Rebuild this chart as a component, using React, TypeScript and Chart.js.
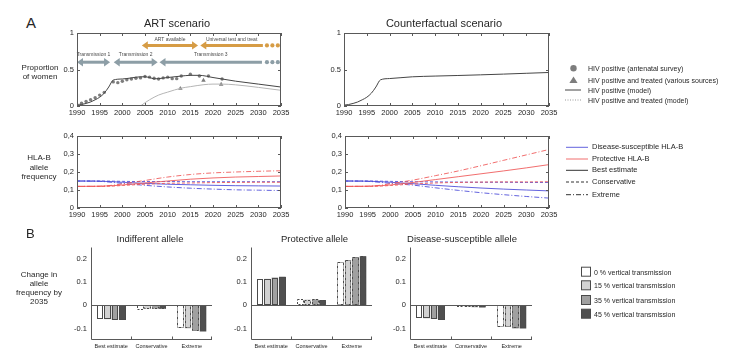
import React, { useEffect, useRef } from 'react';
import { Chart, registerables } from 'chart.js';
Chart.register(...registerables);

const FONT = "'Liberation Sans', Arial, Helvetica, sans-serif";
const AXIS_COLOR = '#595959';
const TEXT_COLOR = '#262626';

// ---------------- Data ----------------
const YEAR_TICKS = [1990, 1995, 2000, 2005, 2010, 2015, 2020, 2025, 2030, 2035];
const PROP_TICKS = [0, 0.5, 1];
const FREQ_TICKS = [0, 0.1, 0.2, 0.3, 0.4];
const CHANGE_TICKS = [-0.1, 0, 0.1, 0.2];

// Panel A, ART scenario (proportion of women)
const ART_MODEL_YEARS = [1990, 1991, 1992, 1993, 1994, 1995, 1996, 1997, 1998, 2000, 2002, 2004, 2005, 2006, 2007, 2008, 2010, 2013, 2015, 2017, 2020, 2025, 2030, 2035];
const ART_MODEL_HIV = [0.012, 0.02, 0.035, 0.055, 0.085, 0.12, 0.175, 0.26, 0.355, 0.37, 0.385, 0.4, 0.4, 0.39, 0.372, 0.375, 0.39, 0.41, 0.42, 0.42, 0.39, 0.34, 0.3, 0.26];
const ART_TREATED_YEARS = [2004, 2005, 2006, 2008, 2010, 2013, 2015, 2018, 2020, 2022, 2025, 2030, 2035];
const ART_TREATED_MODEL = [0.0, 0.045, 0.085, 0.15, 0.19, 0.245, 0.265, 0.292, 0.3, 0.3, 0.29, 0.255, 0.215];
const SURVEY_YEARS = [1990, 1991, 1992, 1993, 1994, 1995, 1996, 1998, 1999, 2000, 2001, 2002, 2003, 2004, 2005, 2006, 2007, 2008, 2009, 2010, 2011, 2012, 2013, 2015, 2017, 2019, 2022];
const SURVEY_HIV = [0.017, 0.039, 0.062, 0.086, 0.113, 0.149, 0.186, 0.33, 0.32, 0.34, 0.36, 0.37, 0.38, 0.385, 0.405, 0.395, 0.38, 0.37, 0.385, 0.395, 0.375, 0.375, 0.41, 0.435, 0.41, 0.41, 0.37];
const TREATED_OBS_YEARS = [2012.8, 2017.9, 2021.8];
const TREATED_OBS = [0.24, 0.35, 0.295];

// Annotation arrows (ART scenario)
const ARROW_LABELS = ['Transmission 1', 'Transmission 2', 'Transmission 3', 'ART available', 'Universal test and treat'];
const ARROW_START = [1990, 1998.1, 2008.2, 2004.3, 2017.2];
const ARROW_END = [1997.3, 2007.8, 2030.8, 2016.7, 2031];
const ARROW_LEVEL = [0.6, 0.6, 0.6, 0.83, 0.83];
const ARROW_RIGHT_HEAD = [true, true, false, true, false];
const ARROW_COLOR = ['#8d9ea6', '#8d9ea6', '#8d9ea6', '#d69c45', '#d69c45'];
const CONTINUATION_YEARS = [2031.9, 2033.1, 2034.3];

// Panel A, counterfactual scenario
const CF_MODEL_YEARS = [1990, 1991, 1992, 1993, 1994, 1995, 1996, 1997, 1998, 2000, 2005, 2010, 2015, 2020, 2025, 2030, 2035];
const CF_MODEL_HIV = [0.012, 0.02, 0.035, 0.055, 0.085, 0.12, 0.175, 0.26, 0.358, 0.376, 0.4, 0.41, 0.418, 0.427, 0.437, 0.448, 0.459];

// HLA-B allele frequency
const FREQ_YEARS = [1990, 1995, 1998, 2000, 2005, 2010, 2015, 2020, 2025, 2030, 2035];
const ART_SUSC_BEST = [0.15, 0.149, 0.146, 0.143, 0.137, 0.132, 0.129, 0.126, 0.124, 0.123, 0.122];
const ART_SUSC_CONS = [0.15, 0.15, 0.149, 0.148, 0.147, 0.147, 0.146, 0.146, 0.146, 0.146, 0.146];
const ART_SUSC_EXT = [0.15, 0.148, 0.142, 0.137, 0.126, 0.117, 0.11, 0.105, 0.101, 0.099, 0.097];
const ART_PROT_BEST = [0.12, 0.121, 0.124, 0.128, 0.139, 0.15, 0.16, 0.167, 0.172, 0.175, 0.178];
const ART_PROT_CONS = [0.12, 0.12, 0.122, 0.125, 0.132, 0.137, 0.139, 0.141, 0.142, 0.143, 0.143];
const ART_PROT_EXT = [0.12, 0.121, 0.127, 0.134, 0.153, 0.172, 0.186, 0.195, 0.2, 0.204, 0.207];
const CF_SUSC_BEST = [0.15, 0.149, 0.146, 0.143, 0.135, 0.126, 0.118, 0.111, 0.105, 0.1, 0.095];
const CF_SUSC_CONS = [0.15, 0.15, 0.149, 0.148, 0.146, 0.145, 0.144, 0.143, 0.143, 0.142, 0.142];
const CF_SUSC_EXT = [0.15, 0.148, 0.142, 0.137, 0.127, 0.112, 0.098, 0.085, 0.074, 0.064, 0.055];
const CF_PROT_BEST = [0.12, 0.121, 0.124, 0.128, 0.142, 0.158, 0.174, 0.19, 0.206, 0.223, 0.241];
const CF_PROT_CONS = [0.12, 0.12, 0.122, 0.125, 0.133, 0.139, 0.142, 0.144, 0.145, 0.145, 0.146];
const CF_PROT_EXT = [0.12, 0.121, 0.127, 0.135, 0.155, 0.18, 0.206, 0.235, 0.265, 0.295, 0.325];

// Panel B, change in allele frequency by 2035
const BAR_CATEGORIES = ['Best estimate', 'Conservative', 'Extreme'];
const VT_LABELS = ['0 % vertical transmission', '15 % vertical transmission', '35 % vertical transmission', '45 % vertical transmission'];
const VT_COLORS = ['#ffffff', '#d2d2d2', '#a0a0a0', '#4f4f4f'];
const INDIFF_VT0 = [-0.06, -0.019, -0.097];
const INDIFF_VT15 = [-0.06, -0.016, -0.1];
const INDIFF_VT35 = [-0.062, -0.015, -0.109];
const INDIFF_VT45 = [-0.063, -0.015, -0.113];
const PROT_VT0 = [0.112, 0.029, 0.189];
const PROT_VT15 = [0.115, 0.025, 0.196];
const PROT_VT35 = [0.12, 0.026, 0.208];
const PROT_VT45 = [0.123, 0.023, 0.212];
const SUSC_VT0 = [-0.055, -0.008, -0.093];
const SUSC_VT15 = [-0.057, -0.007, -0.094];
const SUSC_VT35 = [-0.059, -0.008, -0.1];
const SUSC_VT45 = [-0.062, -0.009, -0.1];

// ---------------- helpers ----------------
const pts = (xs: number[], ys: number[]) => xs.map((x, i) => ({ x, y: ys[i] }));
const BLUE = 'rgba(70,70,215,0.85)';
const RED = 'rgba(238,85,85,0.85)';
const DASH = [3, 2];
const DASHDOT = [5, 2, 1, 2];

type Plot = { x: number; y: number; w: number; h: number };

function boxFramePlugin() {
  return {
    id: 'boxFrame',
    afterDraw(chart: any) {
      const { ctx, chartArea: a, scales } = chart;
      ctx.save();
      ctx.strokeStyle = AXIS_COLOR;
      ctx.lineWidth = 1;
      ctx.strokeRect(Math.round(a.left) + 0.5, Math.round(a.top) + 0.5, Math.round(a.right - a.left) - 1, Math.round(a.bottom - a.top) - 1);
      ctx.beginPath();
      scales.x.ticks.forEach((t: any) => {
        const px = Math.round(scales.x.getPixelForValue(t.value)) + 0.5;
        ctx.moveTo(px, a.bottom); ctx.lineTo(px, a.bottom - 3);
        ctx.moveTo(px, a.top); ctx.lineTo(px, a.top + 3);
      });
      scales.y.ticks.forEach((t: any) => {
        const py = Math.round(scales.y.getPixelForValue(t.value)) + 0.5;
        ctx.moveTo(a.left, py); ctx.lineTo(a.left + 3, py);
        ctx.moveTo(a.right, py); ctx.lineTo(a.right - 3, py);
      });
      ctx.stroke();
      ctx.restore();
    },
  };
}

function arrowPlugin() {
  return {
    id: 'arrows',
    afterDatasetsDraw(chart: any) {
      const { ctx, scales } = chart;
      const xs = scales.x, ys = scales.y;
      ctx.save();
      ARROW_LABELS.forEach((label, i) => {
        const x1 = xs.getPixelForValue(ARROW_START[i]);
        const x2 = xs.getPixelForValue(ARROW_END[i]);
        const y = ys.getPixelForValue(ARROW_LEVEL[i]);
        const hl = 6, hw = 4.2;
        ctx.fillStyle = ARROW_COLOR[i];
        ctx.strokeStyle = ARROW_COLOR[i];
        ctx.lineWidth = 3;
        ctx.beginPath();
        ctx.moveTo(x1 + hl - 1, y);
        ctx.lineTo(ARROW_RIGHT_HEAD[i] ? x2 - hl + 1 : x2, y);
        ctx.stroke();
        ctx.beginPath();
        ctx.moveTo(x1, y); ctx.lineTo(x1 + hl, y - hw); ctx.lineTo(x1 + hl, y + hw); ctx.closePath();
        ctx.fill();
        if (ARROW_RIGHT_HEAD[i]) {
          ctx.beginPath();
          ctx.moveTo(x2, y); ctx.lineTo(x2 - hl, y - hw); ctx.lineTo(x2 - hl, y + hw); ctx.closePath();
          ctx.fill();
        } else {
          CONTINUATION_YEARS.forEach((yr) => {
            ctx.beginPath();
            ctx.arc(xs.getPixelForValue(yr), y, 2.1, 0, Math.PI * 2);
            ctx.fill();
          });
        }
        ctx.fillStyle = '#4a4a4a';
        ctx.font = `5px ${FONT}`;
        ctx.textAlign = 'center';
        ctx.textBaseline = 'middle';
        ctx.fillText(label, (x1 + x2) / 2, y - (ARROW_LEVEL[i] > 0.7 ? 5.5 : 8));
      });
      ctx.restore();
    },
  };
}

function barFramePlugin() {
  return {
    id: 'barFrame',
    afterDatasetsDraw(chart: any) {
      const { ctx, chartArea: a, scales } = chart;
      ctx.save();
      // dashed / dash-dot outlines for bars
      chart.data.datasets.forEach((_d: any, di: number) => {
        const meta = chart.getDatasetMeta(di);
        meta.data.forEach((bar: any, j: number) => {
          const { x, y, base, width } = bar.getProps(['x', 'y', 'base', 'width'], true);
          const l = Math.round(x - width / 2) + 0.5;
          const r = Math.round(x + width / 2) - 0.5;
          const t = Math.round(Math.min(y, base)) + 0.5;
          const b = Math.round(Math.max(y, base)) - 0.5;
          ctx.strokeStyle = '#4a4a4a';
          ctx.lineWidth = 1;
          ctx.setLineDash(j === 0 ? [] : j === 1 ? [2, 1.5] : [3, 1, 1, 1]);
          ctx.strokeRect(l, t, r - l, b - t);
        });
      });
      ctx.setLineDash([]);
      ctx.strokeStyle = AXIS_COLOR;
      ctx.lineWidth = 1;
      ctx.beginPath();
      const L = Math.round(a.left) + 0.5;
      const B = Math.round(a.bottom) - 0.5;
      ctx.moveTo(L, a.top); ctx.lineTo(L, B);
      ctx.lineTo(a.right, B);
      const y0 = Math.round(scales.y.getPixelForValue(0)) + 0.5;
      ctx.moveTo(L, y0); ctx.lineTo(a.right, y0);
      const n = scales.x.ticks.length;
      for (let i = 1; i <= n; i++) {
        const px = i < n
          ? Math.round((scales.x.getPixelForTick(i - 1) + scales.x.getPixelForTick(i)) / 2) + 0.5
          : Math.round(a.right) - 0.5;
        ctx.moveTo(px, B); ctx.lineTo(px, B - 3);
      }
      ctx.stroke();
      ctx.restore();
    },
  };
}

function baseOptions(yW: number, xH: number, padTop: number, padRight: number) {
  return {
    responsive: false,
    maintainAspectRatio: false,
    animation: false,
    devicePixelRatio: 1,
    layout: { padding: { left: 0, right: padRight, top: padTop, bottom: 0 } },
    plugins: { legend: { display: false }, tooltip: { enabled: false } },
  };
}

function lineConfig(datasets: any[], yTicks: number[], yMax: number, yFmt: (v: number) => string, extraPlugins: any[], yW: number, xH: number, padTop: number, padRight: number) {
  return {
    type: 'line',
    data: { datasets },
    options: {
      ...baseOptions(yW, xH, padTop, padRight),
      elements: { point: { radius: 0 }, line: { borderWidth: 1 } },
      scales: {
        x: {
          type: 'linear', min: 1990, max: 2035,
          grid: { display: false, drawTicks: false }, border: { display: false },
          afterBuildTicks: (s: any) => { s.ticks = YEAR_TICKS.map((v) => ({ value: v })); },
          afterFit: (s: any) => { s.height = xH; },
          ticks: { autoSkip: false, maxRotation: 0, minRotation: 0, padding: 2, color: TEXT_COLOR, font: { family: FONT, size: 7.5 }, callback: (v: any) => String(v) },
        },
        y: {
          type: 'linear', min: 0, max: yMax,
          grid: { display: false, drawTicks: false }, border: { display: false },
          afterBuildTicks: (s: any) => { s.ticks = yTicks.map((v) => ({ value: v })); },
          afterFit: (s: any) => { s.width = yW; },
          ticks: { padding: 3, color: TEXT_COLOR, font: { family: FONT, size: 7.5 }, callback: (v: any) => yFmt(Number(v)) },
        },
      },
    },
    plugins: [boxFramePlugin(), ...extraPlugins],
  };
}

function barConfig(series: number[][], yW: number, xH: number, padTop: number, padRight: number) {
  return {
    type: 'bar',
    data: {
      labels: BAR_CATEGORIES,
      datasets: series.map((s, i) => ({
        label: VT_LABELS[i], data: s, backgroundColor: VT_COLORS[i], borderWidth: 0,
        categoryPercentage: 0.74, barPercentage: 0.88,
      })),
    },
    options: {
      ...baseOptions(yW, xH, padTop, padRight),
      scales: {
        x: {
          type: 'category', offset: true,
          grid: { display: false, drawTicks: false }, border: { display: false },
          afterFit: (s: any) => { s.height = xH; },
          ticks: { autoSkip: false, maxRotation: 0, minRotation: 0, padding: 3, color: TEXT_COLOR, font: { family: FONT, size: 5.5 } },
        },
        y: {
          type: 'linear', min: -0.15, max: 0.25,
          grid: { display: false, drawTicks: false }, border: { display: false },
          afterBuildTicks: (s: any) => { s.ticks = CHANGE_TICKS.map((v) => ({ value: v })); },
          afterFit: (s: any) => { s.width = yW; },
          ticks: { padding: 4, color: TEXT_COLOR, font: { family: FONT, size: 7.5 }, callback: (v: any) => (Number(v) === 0 ? '0' : Number(v).toFixed(1)) },
        },
      },
    },
    plugins: [barFramePlugin()],
  };
}

function ChartBox({ plot, yW, xH, padTop, padRight, make }: { plot: Plot; yW: number; xH: number; padTop: number; padRight: number; make: (yW: number, xH: number, padTop: number, padRight: number) => any }) {
  const ref = useRef<HTMLCanvasElement>(null);
  const w = yW + plot.w + padRight;
  const h = padTop + plot.h + xH;
  useEffect(() => {
    if (!ref.current) return;
    const chart = new Chart(ref.current, make(yW, xH, padTop, padRight));
    return () => chart.destroy();
  }, []);
  return (
    <canvas
      ref={ref}
      width={w}
      height={h}
      style={{ position: 'absolute', left: plot.x - yW, top: plot.y - padTop, width: w, height: h }}
    />
  );
}

function Txt({ x, y, size, children, align = 'center', weight = 400 }: any) {
  const tx = align === 'center' ? '-50%' : align === 'right' ? '-100%' : '0';
  return (
    <div
      style={{
        position: 'absolute', left: x, top: y, transform: `translate(${tx}, -50%)`,
        fontFamily: FONT, fontSize: size, color: TEXT_COLOR, whiteSpace: 'nowrap', lineHeight: 1, fontWeight: weight,
      }}
    >
      {children}
    </div>
  );
}

const fmtProp = (v: number) => String(v);
const fmtFreq = (v: number) => (v === 0 ? '0' : v.toFixed(1).replace('.', ','));

function freqDatasets(sb: number[], sc: number[], se: number[], pb: number[], pc: number[], pe: number[]) {
  return [
    { data: pts(FREQ_YEARS, pe), borderColor: RED, borderDash: DASHDOT, cubicInterpolationMode: 'monotone' },
    { data: pts(FREQ_YEARS, pc), borderColor: RED, borderDash: DASH, cubicInterpolationMode: 'monotone' },
    { data: pts(FREQ_YEARS, pb), borderColor: RED, cubicInterpolationMode: 'monotone' },
    { data: pts(FREQ_YEARS, se), borderColor: BLUE, borderDash: DASHDOT, cubicInterpolationMode: 'monotone' },
    { data: pts(FREQ_YEARS, sc), borderColor: BLUE, borderDash: DASH, cubicInterpolationMode: 'monotone' },
    { data: pts(FREQ_YEARS, sb), borderColor: BLUE, cubicInterpolationMode: 'monotone' },
  ];
}

export default function App() {
  const TL: Plot = { x: 77, y: 33, w: 204, h: 73 };
  const TR: Plot = { x: 344, y: 33, w: 205, h: 73 };
  const ML: Plot = { x: 77, y: 136, w: 204, h: 72 };
  const MR: Plot = { x: 345, y: 136, w: 204, h: 72 };
  const BL: Plot = { x: 91, y: 243, w: 121, h: 97 };
  const BM: Plot = { x: 251, y: 243, w: 121, h: 97 };
  const BR: Plot = { x: 410, y: 243, w: 122, h: 97 };

  const artTop = (yW: number, xH: number, pt: number, pr: number) =>
    lineConfig(
      [
        { data: pts(ART_MODEL_YEARS, ART_MODEL_HIV), borderColor: '#454545', cubicInterpolationMode: 'monotone' },
        { data: pts(ART_TREATED_YEARS, ART_TREATED_MODEL), borderColor: '#b5b5b5', cubicInterpolationMode: 'monotone' },
        { data: pts(SURVEY_YEARS, SURVEY_HIV), showLine: false, pointRadius: 1.7, pointBackgroundColor: '#7d7d7d', pointBorderWidth: 0 },
        { data: pts(TREATED_OBS_YEARS, TREATED_OBS), showLine: false, pointStyle: 'triangle', pointRadius: 2.6, pointBackgroundColor: '#7d7d7d', pointBorderWidth: 0 },
      ],
      PROP_TICKS, 1, fmtProp, [arrowPlugin()], yW, xH, pt, pr,
    );
  const cfTop = (yW: number, xH: number, pt: number, pr: number) =>
    lineConfig(
      [{ data: pts(CF_MODEL_YEARS, CF_MODEL_HIV), borderColor: '#454545', cubicInterpolationMode: 'monotone' }],
      PROP_TICKS, 1, fmtProp, [], yW, xH, pt, pr,
    );
  const artFreq = (yW: number, xH: number, pt: number, pr: number) =>
    lineConfig(freqDatasets(ART_SUSC_BEST, ART_SUSC_CONS, ART_SUSC_EXT, ART_PROT_BEST, ART_PROT_CONS, ART_PROT_EXT), FREQ_TICKS, 0.4, fmtFreq, [], yW, xH, pt, pr);
  const cfFreq = (yW: number, xH: number, pt: number, pr: number) =>
    lineConfig(freqDatasets(CF_SUSC_BEST, CF_SUSC_CONS, CF_SUSC_EXT, CF_PROT_BEST, CF_PROT_CONS, CF_PROT_EXT), FREQ_TICKS, 0.4, fmtFreq, [], yW, xH, pt, pr);

  const indiff = (yW: number, xH: number, pt: number, pr: number) => barConfig([INDIFF_VT0, INDIFF_VT15, INDIFF_VT35, INDIFF_VT45], yW, xH, pt, pr);
  const prot = (yW: number, xH: number, pt: number, pr: number) => barConfig([PROT_VT0, PROT_VT15, PROT_VT35, PROT_VT45], yW, xH, pt, pr);
  const susc = (yW: number, xH: number, pt: number, pr: number) => barConfig([SUSC_VT0, SUSC_VT15, SUSC_VT35, SUSC_VT45], yW, xH, pt, pr);

  const legendRowsTop = [68.3, 80, 90, 100];
  const legendTopLabels = ['HIV positive (antenatal survey)', 'HIV positive and treated (various sources)', 'HIV positive (model)', 'HIV positive and treated (model)'];
  const legendRowsMid = [147.3, 159, 170.3, 182, 194.7];
  const legendMidLabels = ['Disease-susceptible HLA-B', 'Protective HLA-B', 'Best estimate', 'Conservative', 'Extreme'];
  const legendRowsBar = [271.7, 285.3, 300, 313.7];

  return (
    <div style={{ position: 'absolute', left: 0, top: 0, width: 737, height: 356, background: '#fff', overflow: 'hidden' }}>
      <ChartBox plot={TL} yW={30} xH={16} padTop={8} padRight={14} make={artTop} />
      <ChartBox plot={TR} yW={30} xH={16} padTop={8} padRight={14} make={cfTop} />
      <ChartBox plot={ML} yW={30} xH={16} padTop={8} padRight={14} make={artFreq} />
      <ChartBox plot={MR} yW={30} xH={16} padTop={8} padRight={14} make={cfFreq} />
      <ChartBox plot={BL} yW={26} xH={13} padTop={4} padRight={4} make={indiff} />
      <ChartBox plot={BM} yW={26} xH={13} padTop={4} padRight={4} make={prot} />
      <ChartBox plot={BR} yW={26} xH={13} padTop={4} padRight={4} make={susc} />

      <Txt x={26} y={22} size={15} align="left">A</Txt>
      <Txt x={177} y={22.5} size={11}>ART scenario</Txt>
      <Txt x={444} y={22.5} size={11}>Counterfactual scenario</Txt>
      <Txt x={40} y={68} size={8}>Proportion</Txt>
      <Txt x={40} y={77} size={8}>of women</Txt>

      <svg style={{ position: 'absolute', left: 0, top: 0 }} width={737} height={356}>
        <circle cx={573.5} cy={legendRowsTop[0]} r={3.2} fill="#7d7d7d" />
        <polygon points={`573.5,${legendRowsTop[1] - 3.6} 577.6,${legendRowsTop[1] + 3} 569.4,${legendRowsTop[1] + 3}`} fill="#7d7d7d" />
        <line x1={565} x2={581} y1={legendRowsTop[2]} y2={legendRowsTop[2]} stroke="#454545" strokeWidth={1} />
        <line x1={565} x2={581} y1={legendRowsTop[3]} y2={legendRowsTop[3]} stroke="#999" strokeWidth={1} strokeDasharray="1 1.5" />

        <line x1={566} x2={588} y1={legendRowsMid[0]} y2={legendRowsMid[0]} stroke={BLUE} strokeWidth={1} />
        <line x1={566} x2={588} y1={legendRowsMid[1]} y2={legendRowsMid[1]} stroke={RED} strokeWidth={1} />
        <line x1={566} x2={588} y1={legendRowsMid[2]} y2={legendRowsMid[2]} stroke="#333" strokeWidth={1} />
        <line x1={566} x2={588} y1={legendRowsMid[3]} y2={legendRowsMid[3]} stroke="#333" strokeWidth={1} strokeDasharray="3 2" />
        <line x1={566} x2={588} y1={legendRowsMid[4]} y2={legendRowsMid[4]} stroke="#333" strokeWidth={1} strokeDasharray="5 2 1 2" />

        {legendRowsBar.map((y, i) => (
          <rect key={i} x={581.5} y={y - 4.5} width={9} height={9} fill={VT_COLORS[i]} stroke="#4a4a4a" strokeWidth={1} />
        ))}
      </svg>

      {legendTopLabels.map((t, i) => (
        <Txt key={t} x={588} y={legendRowsTop[i]} size={7} align="left">{t}</Txt>
      ))}

      <Txt x={39} y={158.3} size={8}>HLA-B</Txt>
      <Txt x={39} y={168} size={8}>allele</Txt>
      <Txt x={39} y={177.3} size={8}>frequency</Txt>
      {legendMidLabels.map((t, i) => (
        <Txt key={t} x={592} y={legendRowsMid[i]} size={7.5} align="left">{t}</Txt>
      ))}

      <Txt x={26} y={232.5} size={13} align="left">B</Txt>
      <Txt x={150} y={238.5} size={9.5}>Indifferent allele</Txt>
      <Txt x={314.5} y={238.5} size={9.5}>Protective allele</Txt>
      <Txt x={462} y={238.5} size={9.5}>Disease-susceptible allele</Txt>
      <Txt x={39} y={275} size={8}>Change in</Txt>
      <Txt x={39} y={284.3} size={8}>allele</Txt>
      <Txt x={39} y={293.3} size={8}>frequency by</Txt>
      <Txt x={39} y={302.3} size={8}>2035</Txt>
      {VT_LABELS.map((t, i) => (
        <Txt key={t} x={594} y={legendRowsBar[i]} size={7} align="left">{t}</Txt>
      ))}
    </div>
  );
}
